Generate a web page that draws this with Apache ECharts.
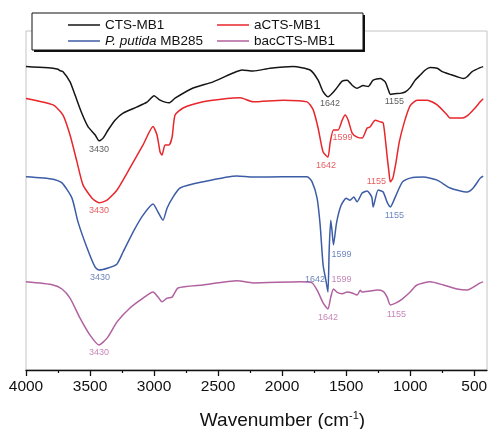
<!DOCTYPE html>
<html>
<head>
<meta charset="utf-8">
<script src="https://cdn.jsdelivr.net/npm/echarts@6/dist/echarts.min.js"></script>
<style>
  html, body { margin: 0; padding: 0; background: #fff; }
  #chart { width: 488px; height: 429px; }
</style>
</head>
<body>
<div id="chart"></div>
<script>
// FTIR spectra, offset vertically (arbitrary transmittance units)
const wnCTS = [4000,3900,3789,3750,3734,3711,3656,3617,3565,3516,3461,3430,3398,3359,3305,3242,3133,3055,3000,2953,2883,2836,2695,2539,2383,2313,2227,2094,1914,1781,1719,1680,1642,1586,1531,1492,1453,1414,1367,1328,1289,1234,1195,1170,1155,1120,1078,1040,1000,961,922,882,844,789,750,688,633,586,555,516,453,430];
const tCTS = [89.5,89.3,89.0,88.7,88.3,88.0,85.0,81.1,75.8,71.8,69.4,67.6,68.4,70.8,73.7,75.8,77.6,79.0,80.9,79.6,78.8,80.2,83.2,85.0,87.6,88.5,88.2,89.0,89.5,88.5,85.5,82.1,80.6,82.6,85.2,85.5,84.0,83.1,83.9,83.6,85.5,86.0,85.0,82.6,81.3,81.5,81.6,82.0,83.3,85.5,87.0,88.5,89.2,89.0,88.0,87.2,86.5,86.0,86.5,88.0,89.2,89.5];

const wnACTS = [4000,3789,3711,3656,3602,3555,3484,3430,3367,3289,3188,3086,3008,2977,2953,2938,2914,2883,2859,2836,2773,2617,2430,2328,2227,1992,1805,1758,1719,1680,1642,1625,1599,1563,1531,1508,1484,1453,1414,1375,1336,1313,1273,1234,1211,1195,1180,1166,1155,1135,1110,1085,1045,1000,945,867,789,711,688,600,547,500,453,430];
const tACTS = [80.1,78.2,75.2,69.3,61.4,54.6,50.7,49.3,50.1,53.1,59.6,66.4,71.8,69.3,64.3,63.4,66.4,66.4,68.7,75.2,77.3,79.1,80.1,80.3,79.1,79.6,79.1,76.8,71.4,64.3,62.8,67.0,70.8,70.8,73.7,75.2,73.7,69.9,68.7,68.4,71.4,71.7,73.7,73.2,72.9,68.5,63.0,58.5,55.5,56.6,61.4,67.3,73.2,78.0,79.6,79.6,78.2,75.2,74.3,74.3,75.2,77.0,79.1,80.0];

const wnPut = [4000,3789,3719,3641,3594,3523,3461,3430,3359,3289,3242,3164,3086,3008,2969,2930,2898,2852,2797,2617,2352,2227,1992,1805,1766,1727,1703,1680,1656,1642,1632,1620,1610,1599,1575,1540,1500,1470,1440,1415,1375,1336,1300,1289,1250,1211,1180,1155,1110,1060,1000,898,789,688,555,508,453,430];
const tPut = [57.0,56.3,55.2,50.7,43.7,36.0,30.4,29.5,30.1,31.3,34.8,40.7,45.7,49.0,46.6,44.2,47.8,51.0,53.7,55.5,57.2,56.9,57.0,57.0,55.5,50.7,42.8,31.0,26.0,23.0,36.0,44.2,41.0,36.9,43.4,48.5,50.7,50.1,51.0,49.6,52.2,52.8,51.0,48.1,53.1,52.5,49.5,48.1,51.6,55.5,56.6,56.9,56.0,53.7,52.5,53.7,56.6,57.2];

const wnBac = [4000,3789,3719,3656,3578,3500,3430,3367,3289,3188,3086,3008,2969,2938,2898,2859,2813,2617,2352,2227,1859,1766,1719,1680,1642,1620,1599,1570,1530,1492,1453,1414,1390,1375,1313,1258,1211,1180,1155,1110,1060,1000,950,844,742,633,555,453,430];
const tBac = [26.0,25.1,23.9,21.2,15.3,10.3,7.4,9.4,14.2,18.3,21.2,23.0,21.5,20.1,21.2,21.5,24.2,25.1,26.3,25.7,26.0,25.7,23.0,19.8,18.0,21.5,23.9,22.9,22.5,23.0,22.7,22.1,23.5,23.0,23.3,23.6,23.2,21.5,19.2,19.8,21.0,23.0,25.0,26.0,25.1,23.9,23.6,25.7,26.0];

// annotated band positions (cm-1)
const bandsCTS = [3430, 1642, 1155];
const bandsACTS = [3430, 1642, 1599, 1155];
const bandsPut = [3430, 1642, 1599, 1155];
const bandsBac = [3430, 1642, 1599, 1155];

// axis ticks
const majorTicks = [4000, 3500, 3000, 2500, 2000, 1500, 1000, 500];
const minorTicks = [3750, 3250, 2750, 2250, 1750, 1250, 750];

const names = ['CTS-MB1', 'aCTS-MB1', 'P. putida MB285', 'bacCTS-MB1'];

const spectra = [
  { name: names[0], wn: wnCTS, t: tCTS, bands: bandsCTS, color: '#151515', labelColor: '#333333',
    place: [[0, 9], [2, 7], [4, 7]] },
  { name: names[1], wn: wnACTS, t: tACTS, bands: bandsACTS, color: '#e8262b', labelColor: '#e0353a',
    place: [[0, 8], [-2, 8], [9, 8], [-14, 0]] },
  { name: names[2], wn: wnPut, t: tPut, bands: bandsPut, color: '#3c5ca6', labelColor: '#4a68ad',
    place: [[1, 8], [-13, -13], [8, 10], [4, 9]] },
  { name: names[3], wn: wnBac, t: tBac, bands: bandsBac, color: '#b0619f', labelColor: '#b868a8',
    place: [[0, 8], [0, 9], [8, -9], [6, 10]] }
];

const series = [];
spectra.forEach(s => {
  series.push({
    name: s.name,
    type: 'line',
    data: s.wn.map((w, i) => [w, s.t[i]]),
    showSymbol: false,
    smooth: 0.2,
    lineStyle: { color: s.color, width: 1.5 },
    itemStyle: { color: s.color },
    z: 3
  });
  series.push({
    type: 'scatter',
    symbolSize: 0,
    silent: true,
    z: 4,
    data: s.bands.map(b => [b, s.t[s.wn.indexOf(b)]]),
    label: {
      show: true,
      position: 'inside',
      formatter: p => String(p.value[0]),
      fontFamily: 'Liberation Sans, Arial, sans-serif',
      fontSize: 9,
      color: s.labelColor
    },
    labelLayout: p => ({ dx: s.place[p.dataIndex][0], dy: s.place[p.dataIndex][1] })
  });
});

const chart = echarts.init(document.getElementById('chart'), null, { renderer: 'canvas' });

const legendText = {
  fontFamily: 'Liberation Sans, Arial, sans-serif',
  fontSize: 13.5,
  color: '#111',
  rich: { i: { fontStyle: 'italic', fontSize: 13.5, fontFamily: 'Liberation Sans, Arial, sans-serif', color: '#111' } }
};
const legendFmt = n => n === 'P. putida MB285' ? '{i|P. putida} MB285' : n;

chart.setOption({
  animation: false,
  backgroundColor: '#ffffff',
  grid: {
    left: 26, right: 1, top: 31, bottom: 59,
    containLabel: false, outerBoundsMode: 'none',
    show: true, borderColor: '#c4c4c4', borderWidth: 1
  },
  graphic: [
    { type: 'rect', z: 5, shape: { x: 34, y: 15, width: 331, height: 37 }, style: { fill: '#111' } },
    { type: 'rect', z: 6, shape: { x: 32, y: 13, width: 331, height: 37 }, style: { fill: '#fff', stroke: '#111', lineWidth: 1 } }
  ],
  legend: [
    {
      data: [names[0], names[2]], orient: 'vertical', left: 63, top: 13, z: 10,
      icon: 'rect', itemWidth: 32, itemHeight: 1.5, itemGap: 2,
      formatter: legendFmt, textStyle: legendText, selectedMode: false
    },
    {
      data: [names[1], names[3]], orient: 'vertical', left: 212, top: 13, z: 10,
      icon: 'rect', itemWidth: 32, itemHeight: 1.5, itemGap: 2,
      formatter: legendFmt, textStyle: legendText, selectedMode: false
    }
  ],
  xAxis: [
    {
      type: 'value', inverse: true, min: 400, max: 4000,
      axisLine: { show: true, lineStyle: { color: '#111', width: 1.3 } },
      axisTick: { show: true, customValues: majorTicks, length: 6, lineStyle: { color: '#111', width: 1.3 } },
      axisLabel: {
        customValues: majorTicks, margin: 9,
        formatter: v => String(v),
        fontFamily: 'Liberation Sans, Arial, sans-serif', fontSize: 15.5, color: '#111'
      },
      splitLine: { show: false },
      name: '{a|Wavenumber (cm}{b|-1}{a|)}',
      nameLocation: 'middle', nameGap: 40,
      nameTextStyle: {
        padding: [0, 0, 0, 52],
        rich: {
          a: { fontFamily: 'Liberation Sans, Arial, sans-serif', fontSize: 19, color: '#111', lineHeight: 22 },
          b: { fontFamily: 'Liberation Sans, Arial, sans-serif', fontSize: 11, color: '#111', lineHeight: 22, verticalAlign: 'top' }
        }
      }
    },
    {
      type: 'value', inverse: true, min: 400, max: 4000, position: 'bottom',
      axisLine: { show: false },
      axisTick: { show: true, customValues: minorTicks, length: 3, lineStyle: { color: '#111', width: 1.2 } },
      axisLabel: { show: false },
      splitLine: { show: false }
    }
  ],
  yAxis: { type: 'value', min: 0, max: 100, show: false },
  series: series
});
</script>
</body>
</html>
